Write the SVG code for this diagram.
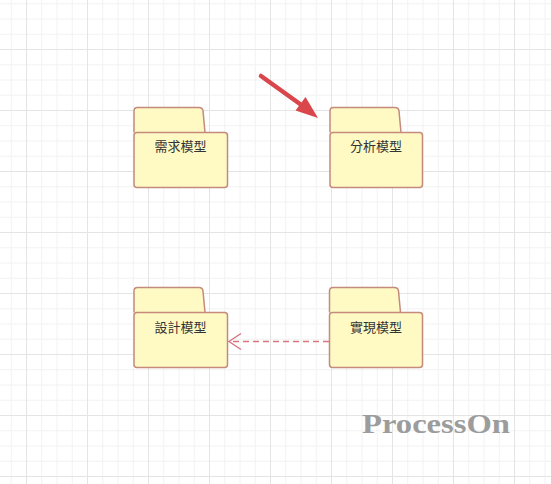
<svg xmlns="http://www.w3.org/2000/svg" width="551" height="484" viewBox="0 0 551 484">
<defs>
<pattern id="grid" patternUnits="userSpaceOnUse" x="26" y="49" width="61" height="61">
<path d="M15.75,0V61M31,0V61M46.25,0V61M0,15.75H61M0,31H61M0,46.25H61" stroke="#f2f2f2" stroke-width="1" fill="none"/>
<path d="M0.5,0V61M0,0.5H61" stroke="#e4e4e4" stroke-width="1" fill="none"/>
</pattern>
<marker id="open" markerUnits="userSpaceOnUse" markerWidth="16" markerHeight="20" refX="13" refY="9" orient="auto">
<path d="M1,1 L13,9 L1,17" fill="none" stroke="#d8737f" stroke-width="1.4"/>
</marker>
</defs>
<style>
.tab,.body{fill:#fffac4;stroke:#c48a7c;stroke-width:1.5}
.lbl{font-family:"Noto Sans CJK TC","Noto Sans CJK SC",sans-serif;font-size:13px;fill:#333;text-anchor:middle}
</style>
<rect width="551" height="484" fill="#ffffff"/>
<rect width="551" height="484" fill="url(#grid)"/>
<g id="node-requirements">
<path class="tab" d="M134,132.5V111Q134,107.5 137.5,107.5H199Q202.5,107.5 203,111L205,132.5"/>
<rect class="body" x="134" y="132.5" width="93.5" height="55" rx="3"/>
<text class="lbl" x="180.5" y="150.5">需求模型</text>
</g>
<g id="node-analysis">
<path class="tab" d="M330,132.5V111Q330,107.5 333.5,107.5H395Q398.5,107.5 399,111L401,132.5"/>
<rect class="body" x="330" y="132.5" width="92.5" height="55" rx="3"/>
<text class="lbl" x="376" y="150.5">分析模型</text>
</g>
<g id="node-design">
<path class="tab" d="M134,312.5V291Q134,287.5 137.5,287.5H199Q202.5,287.5 203,291L205,312.5"/>
<rect class="body" x="134" y="312.5" width="93.5" height="55" rx="3"/>
<text class="lbl" x="180.5" y="331.5">設計模型</text>
</g>
<g id="node-implementation">
<path class="tab" d="M329.5,312.5V291Q329.5,287.5 333,287.5H394.5Q398,287.5 398.5,291L400.5,312.5"/>
<rect class="body" x="329.5" y="312.5" width="93" height="55" rx="3"/>
<text class="lbl" x="376" y="331.5">實現模型</text>
</g>
<g id="connectors">
<line x1="329" y1="341.5" x2="229" y2="341.5" stroke="#d8737f" stroke-width="1.4" stroke-dasharray="6,4" marker-end="url(#open)"/>
<line x1="261" y1="76" x2="300" y2="104" stroke="#d9464b" stroke-width="4.5" stroke-linecap="round"/>
<path d="M295.5,110.5 L318,118 L305.5,97 Z" fill="#d9464b"/>
</g>
<text x="362" y="433" font-family="Liberation Serif, serif" font-weight="bold" font-size="27" fill="#9c9c9c" textLength="148" lengthAdjust="spacingAndGlyphs">ProcessOn</text>
</svg>
